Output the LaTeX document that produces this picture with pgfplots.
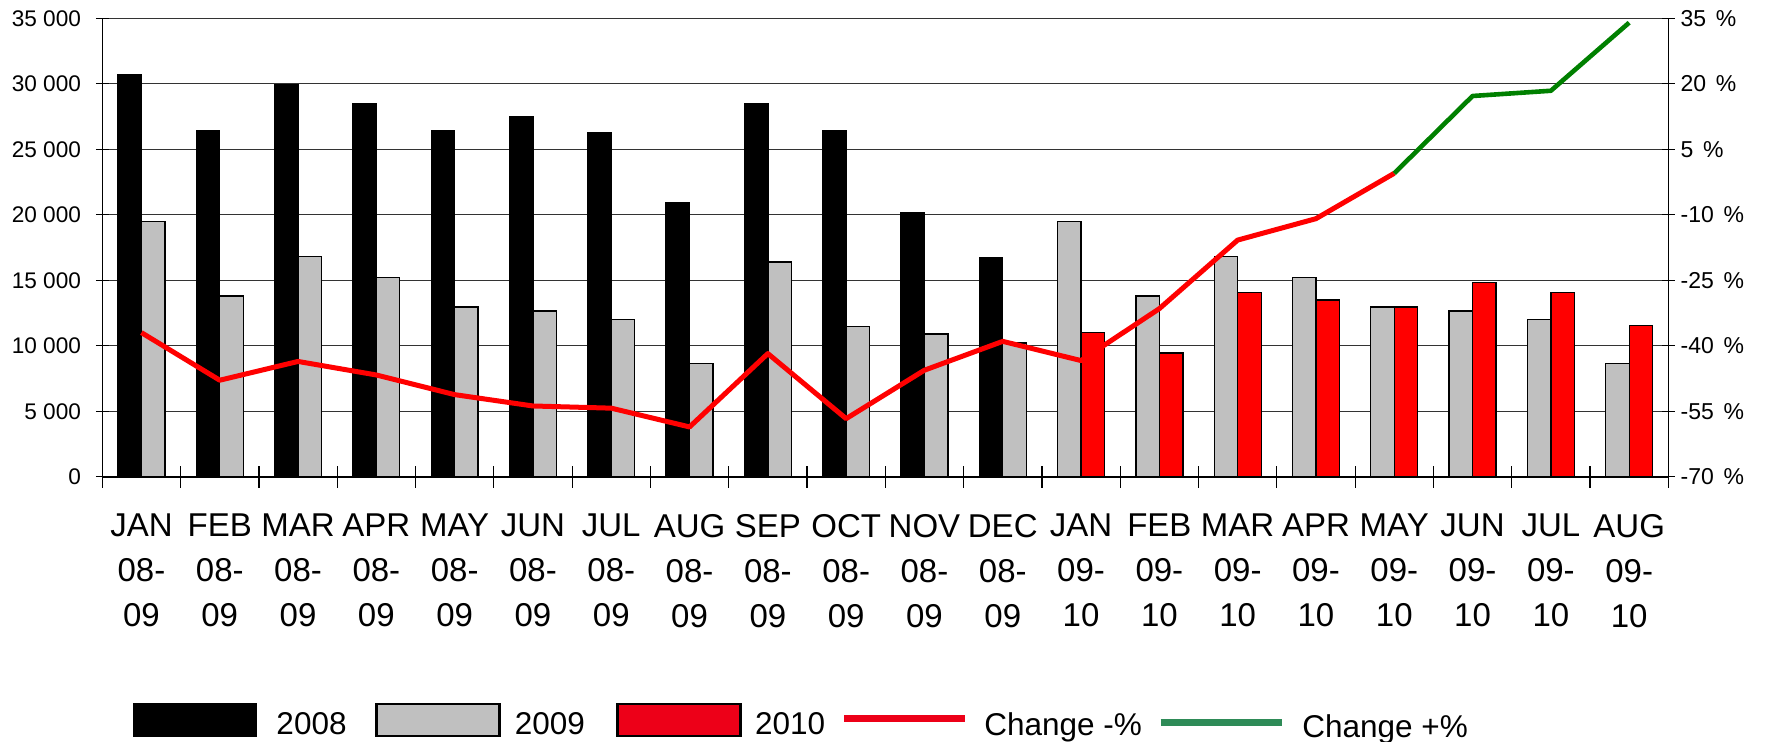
\documentclass[border=0pt]{standalone}
\usepackage{fontspec}
\setmainfont{Liberation Sans}
\usepackage{pgfplots}
\usepackage{pgfplotstable}
\pgfplotsset{compat=1.18}
\definecolor{barred}{RGB}{255,0,0}
\definecolor{bargrey}{RGB}{192,192,192}
\definecolor{linered}{RGB}{255,0,0}
\definecolor{linegreen}{RGB}{0,128,0}
\definecolor{legred}{RGB}{237,0,24}
\definecolor{leggreen}{RGB}{46,139,87}

\pgfplotstableread{
x y
1 30700
2 26400
3 29900
4 28500
5 26400
6 27500
7 26300
8 20900
9 28500
10 26400
11 20200
12 16700
}\tabA
\pgfplotstableread{
x y
1 19500
2 13800
3 16800
4 15200
5 12950
6 12650
7 12000
8 8650
9 16400
10 11450
11 10900
12 10200
}\tabB
\pgfplotstableread{
x y
13 19500
14 13800
15 16800
16 15200
17 12950
18 12650
19 12000
20 8650
}\tabBB
\pgfplotstableread{
x y
13 11000
14 9450
15 14050
16 13500
17 12950
18 14850
19 14050
20 11550
}\tabC
\pgfplotstableread{
x y
1 -37.0
2 -47.9
3 -43.6
4 -46.7
5 -51.2
6 -53.8
7 -54.3
8 -58.6
9 -41.8
10 -56.7
11 -45.6
12 -39.0
13 -43.4
14 -31.5
15 -15.8
16 -10.9
17 -0.5
}\tabNeg
\pgfplotstableread{
x y
17 -0.5
18 17.2
19 18.4
20 34.0
}\tabPos

\begin{document}
\begin{tikzpicture}
\pgfplotsset{
  base/.style={
    scale only axis, width=783pt, height=229.2pt,
    at={(0,0)}, anchor=south west,
    xmin=0.5, xmax=20.5,
    axis line style={-, black, line width=0.8pt},
    tick style={black, line width=0.6pt},
    tick align=center,
    scaled y ticks=false,
  }
}
\begin{axis}[base,
  ymin=0, ymax=35000,
  axis x line*=bottom, axis y line*=left,
  ytick={0,5000,10000,15000,20000,25000,30000,35000},
  yticklabels={0,5 000,10 000,15 000,20 000,25 000,30 000,35 000},
  yticklabel style={font=\fontsize{11.3}{13}\selectfont, xshift=-5pt},
  ytick style={/pgfplots/major tick length=6.5pt},
  xtick={0.5,1.5,2.5,3.5,4.5,5.5,6.5,7.5,8.5,9.5,10.5,11.5,12.5,13.5,14.5,15.5,16.5,17.5,18.5,19.5,20.5},
  x tick label as interval,
  xticklabels={{JAN\\08-\\09},{FEB\\08-\\09},{MAR\\08-\\09},{APR\\08-\\09},{MAY\\08-\\09},{JUN\\08-\\09},{JUL\\08-\\09},{AUG\\08-\\09},{SEP\\08-\\09},{OCT\\08-\\09},{NOV\\08-\\09},{DEC\\08-\\09},{JAN\\09-\\10},{FEB\\09-\\10},{MAR\\09-\\10},{APR\\09-\\10},{MAY\\09-\\10},{JUN\\09-\\10},{JUL\\09-\\10},{AUG\\09-\\10}},
  xticklabel style={align=center, font=\fontsize{16.5}{22.5}\selectfont, yshift=-13pt},
  xtick style={/pgfplots/major tick length=11pt},
  ymajorgrids, grid style={black!80, line width=0.6pt},
  legend columns=-1,
  legend style={draw=none, fill=none, at={(axis description cs:0.01973,-0.5319)}, anchor=west,
    font=\fontsize{15.75}{18}\selectfont, inner sep=0pt, outer sep=0pt, nodes={inner sep=0pt},
    /tikz/column 1/.style={column sep=9.5pt},
    /tikz/column 2/.style={column sep=7.2pt},
    /tikz/column 3/.style={column sep=7.0pt},
    /tikz/column 4/.style={column sep=8.55pt},
    /tikz/column 5/.style={column sep=6.65pt},
    /tikz/column 6/.style={column sep=7.8pt},
    /tikz/column 7/.style={column sep=7.9pt},
    /tikz/column 8/.style={column sep=7.2pt},
    /tikz/column 9/.style={column sep=8.6pt}},
]
\addplot[ybar, bar width=0.3, bar shift=-0.15, fill=black, draw=black, line width=0.65pt, forget plot] table[x=x,y=y] {\tabA};
\addplot[ybar, bar width=0.3, bar shift=0.15, fill=bargrey, draw=black, line width=0.65pt, forget plot] table[x=x,y=y] {\tabB};
\addplot[ybar, bar width=0.3, bar shift=-0.15, fill=bargrey, draw=black, line width=0.65pt, forget plot] table[x=x,y=y] {\tabBB};
\addplot[ybar, bar width=0.3, bar shift=0.15, fill=barred, draw=black, line width=0.65pt, forget plot] table[x=x,y=y] {\tabC};
\addlegendimage{legend image code/.code={\draw[fill=black,draw=black,line width=0.65pt] (0pt,-5.35pt) rectangle (61.5pt,10.65pt);}}
\addlegendentry{2008}
\addlegendimage{legend image code/.code={\path[draw=none,fill=none] (0pt,0pt) -- (7.8pt,0pt); \draw[fill=bargrey,draw=black,line width=1.2pt] (7.8pt,-5.35pt) rectangle (69.3pt,10.65pt);}}
\addlegendentry{2009}
\addlegendimage{legend image code/.code={\path[draw=none,fill=none] (0pt,0pt) -- (7.8pt,0pt); \draw[fill=legred,draw=black,line width=1.2pt] (7.8pt,-5.35pt) rectangle (69.3pt,10.65pt);}}
\addlegendentry{2010}
\addlegendimage{legend image code/.code={\draw[legred,line width=3.5pt] (0pt,3.3pt) -- (60.4pt,3.3pt);}}
\addlegendentry{Change -\%}
\addlegendimage{legend image code/.code={\path[draw=none,fill=none] (0pt,0pt) -- (2.15pt,0pt); \draw[leggreen,line width=3.5pt] (2.15pt,1.5pt) -- (62.65pt,1.5pt);}}
\addlegendentry{\raisebox{-2.1pt}{Change +\%}}
\end{axis}
\begin{axis}[base,
  ymin=-70, ymax=35,
  axis y line*=right, axis x line=none,
  ytick={-70,-55,-40,-25,-10,5,20,35},
  yticklabels={-70\hspace{0.42em}\%,-55\hspace{0.42em}\%,-40\hspace{0.42em}\%,-25\hspace{0.42em}\%,-10\hspace{0.42em}\%,5\hspace{0.42em}\%,20\hspace{0.42em}\%,35\hspace{0.42em}\%},
  yticklabel style={font=\fontsize{11.5}{13}\selectfont, xshift=0.5pt},
  ytick style={/pgfplots/major tick length=6.5pt},
]
\addplot[linered, line width=2.5pt, line join=round] table[x=x,y=y] {\tabNeg};
\addplot[linegreen, line width=2.3pt, line join=round] table[x=x,y=y] {\tabPos};
\end{axis}
\pgfresetboundingbox
\path (-51.15pt,-132.15pt) rectangle (831.85pt,238.35pt);
\end{tikzpicture}
\end{document}
